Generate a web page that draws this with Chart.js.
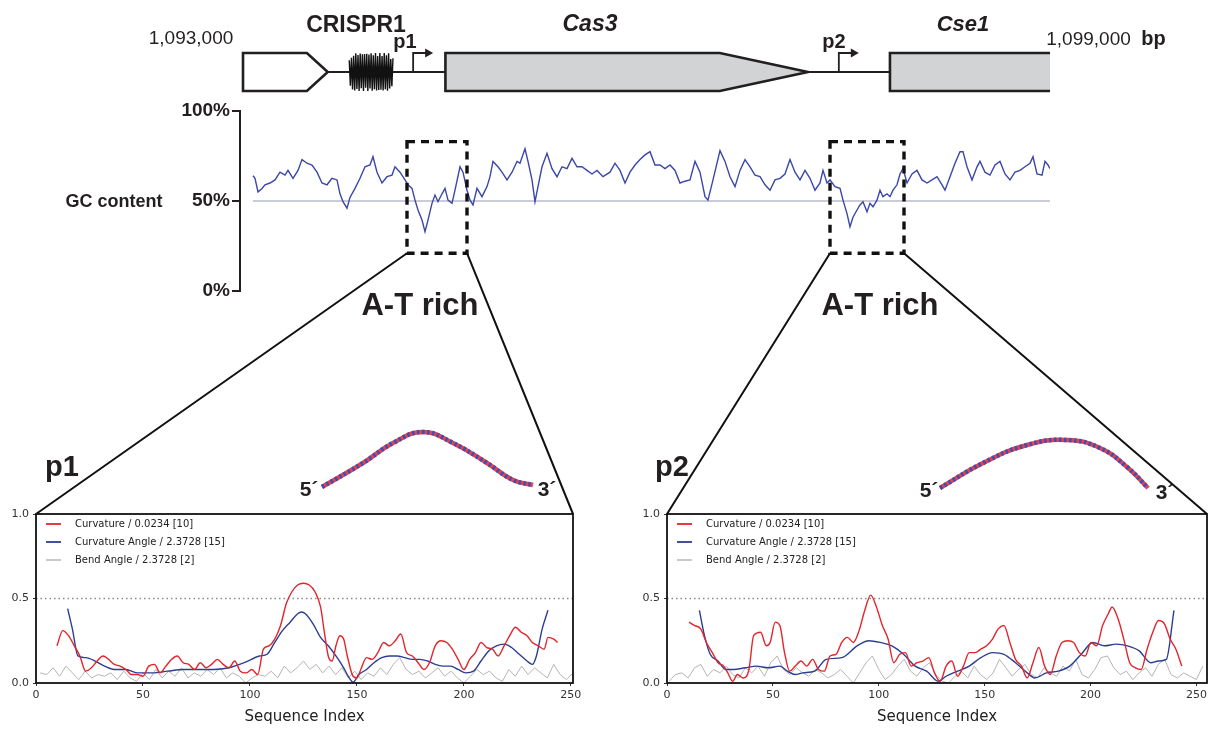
<!DOCTYPE html>
<html>
<head>
<meta charset="utf-8">
<script src="https://cdn.jsdelivr.net/npm/chart.js@4.4.1/dist/chart.umd.min.js"></script>
<style>
  html, body { margin: 0; padding: 0; background: #fff; }
  #wrap { position: relative; width: 1216px; height: 731px; overflow: hidden; font-family: "Liberation Sans", Arial, sans-serif; color: #231f20; }
  #wrap canvas { position: absolute; }
  .lbl { position: absolute; transform: translate(-50%, -50%); white-space: nowrap; line-height: 1; }
  .b { font-weight: bold; }
  .i { font-style: italic; }
</style>
</head>
<body>
<div id="wrap">
  <canvas id="mapChart" width="1216" height="100" style="left:0px;top:0px"></canvas>
  <canvas id="gcChart" width="1216" height="210" style="left:0px;top:95px"></canvas>
  <canvas id="dna1" width="232" height="75" style="left:312px;top:422px"></canvas>
  <canvas id="dna2" width="232" height="75" style="left:930px;top:423px"></canvas>
  <canvas id="p1Chart" width="608" height="231" style="left:0px;top:500px"></canvas>
  <canvas id="p2Chart" width="606" height="231" style="left:610px;top:500px"></canvas>
  <canvas id="links" width="1216" height="731" style="left:0px;top:0px"></canvas>

  <div class="lbl" style="left:191px;top:37px;font-size:19px">1,093,000</div>
  <div class="lbl b" style="left:356px;top:24px;font-size:23px">CRISPR1</div>
  <div class="lbl b" style="left:405px;top:41px;font-size:20px">p1</div>
  <div class="lbl b i" style="left:590px;top:23px;font-size:23px">Cas3</div>
  <div class="lbl b" style="left:834px;top:41px;font-size:20px">p2</div>
  <div class="lbl b i" style="left:963px;top:24px;font-size:22px">Cse1</div>
  <div class="lbl" style="left:1106px;top:38px;font-size:19px">1,099,000 &nbsp;<span class="b" style="font-size:20px">bp</span></div>
  <div class="lbl b" style="left:114px;top:201px;font-size:18px">GC content</div>
  <div class="lbl b" style="left:420px;top:304px;font-size:31px">A-T rich</div>
  <div class="lbl b" style="left:880px;top:304px;font-size:31px">A-T rich</div>
  <div class="lbl b" style="left:62px;top:466px;font-size:29px">p1</div>
  <div class="lbl b" style="left:672px;top:466px;font-size:29px">p2</div>
  <div class="lbl b" style="left:309px;top:488px;font-size:21px">5´</div>
  <div class="lbl b" style="left:547px;top:488px;font-size:21px">3´</div>
  <div class="lbl b" style="left:929px;top:489px;font-size:21px">5´</div>
  <div class="lbl b" style="left:1165px;top:491px;font-size:21px">3´</div>
</div>

<script>
// gene map (bp)
const featName  = ['orf', 'CRISPR1', 'Cas3', 'Cse1'];
const featKind  = ['arrow', 'repeat', 'arrow', 'box'];
const featStart = [1093000, 1093790, 1094505, 1097810];
const featHead  = [1093475, null, 1096545, null];
const featEnd   = [1093630, 1094115, 1097200, 1099000];
const featFill  = ['#ffffff', '#111111', '#d1d3d4', '#d1d3d4'];
const promPos   = [1094265, 1097430];

// GC content, sliding window number vs %
const gcWin = [0,2,5,9,12,17,22,27,32,35,40,45,49,54,59,64,69,74,79,84,87,90,94,97,102,107,112,117,120,124,
  129,134,139,142,147,152,155,159,162,165,169,172,175,179,182,185,189,192,195,199,202,207,210,214,217,220,224,229,234,237,
  240,245,249,254,259,264,267,272,275,279,282,285,289,294,299,304,309,314,319,324,329,334,339,344,350,357,362,367,372,377,
  382,387,392,397,402,407,412,417,422,427,432,437,442,447,452,455,460,
  467,472,477,482,487,492,497,502,507,512,517,522,527,532,537,542,547,552,557,562,567,570,574,577,582,587,590,594,597,600,
  604,607,610,614,617,620,624,627,630,634,637,640,644,647,650,654,659,664,669,674,679,684,689,692,697,702,707,710,714,719,
  724,727,732,737,742,747,752,757,762,767,772,777,780,784,789,792,795,797];
const gcPct = [64,62.6,55,57,59,60,61.7,66,64.4,67,62.6,67,73,71,70,66,60,59,62.6,61.7,54,49.6,46,52,57,62.6,69,70,74.6,66,
  60,63.5,64.4,69,66,61.7,59,57,50.5,45,39.4,33,39.4,48.7,53.3,49.6,54,57,50.5,48.7,56,69,66,56,50.5,47.8,57,52.4,58,63.5,
  72,69,66,61.7,66,72,71,79,72,61.7,49.6,58,69,76.5,68,63.5,69,68,73.7,69,69,67,65,67,63.5,66,71,67,60,66,
  70,73,75.6,77.4,70,70,68,70,67,60,61,61.7,72,66,52.4,50.5,61.7,
  78,72,63.5,58,67,73,69,64.4,63.5,59,56,61.7,62.6,65,73,66,61.7,67,62.6,56,60,67,60,61.7,58,57,50.5,43,35.7,41,
  45,47.8,49.6,44,48.7,46.8,50.5,56,52.4,54,52.4,56,59,65,68,60,65,67,61.7,60,61.7,63.5,59,56,63.5,71,77.4,77.4,69,61.7,
  69,72,66,64.4,70,72,65,61.7,66,67,69,71,74.6,65,64.4,72,70,68];
const gcMid = 50;

// A-T rich windows
const boxFrom = [154, 577];
const boxTo   = [214, 651];
const boxLow = 21, boxHigh = 83;

// p1 profiles
const p1CurvX = [9.8,12.5,15.2,17.9,20.5,23.2,25.9,28.6,31.3,33.9,36.6,39.3,42,44.6,47.3,50,52.7,55.4,58,60.7,
  63.4,66,68.8,71.4,74.1,76.8,79.5,82,84.8,87.5,90.2,92.9,95.5,98.2,100.9,103.6,106.3,108.9,111.6,114.3,
  117,119.6,122.3,125,127.7,130.4,133,134.8,136.6,138.4,140.2,142,143.8,145.5,148.2,150,151.8,154.5,157.1,159.8,
  162.5,165.2,167.9,170.5,173.2,175.9,178.6,181.3,183.9,186.6,189.3,192,194.6,197.3,200,202.7,205.4,208,210.7,213.4,
  216,218.8,221.4,224.1,226.8,229.5,232,234.8,237.5,239.3,242,243.8];
const p1Curv = [0.22,0.31,0.28,0.22,0.16,0.07,0.09,0.13,0.16,0.14,0.11,0.10,0.08,0.05,0.05,0.04,0.10,0.11,0.06,0.10,
  0.14,0.16,0.12,0.11,0.08,0.12,0.09,0.11,0.14,0.11,0.09,0.13,0.07,0.06,0.08,0.05,0.20,0.22,0.26,0.34,
  0.47,0.54,0.58,0.59,0.58,0.54,0.45,0.30,0.16,0.13,0.22,0.28,0.26,0.16,0.04,0.03,0.08,0.15,0.14,0.18,
  0.24,0.22,0.25,0.29,0.18,0.16,0.12,0.08,0.12,0.22,0.25,0.24,0.20,0.14,0.08,0.14,0.18,0.24,0.21,0.20,
  0.16,0.22,0.28,0.33,0.30,0.28,0.24,0.22,0.20,0.27,0.26,0.24];
const p1AngX = [14.8,17,19.6,23.2,27.7,32,36.6,42,47.3,54.5,61.6,68.8,75.9,83,90.2,97.3,104.5,108,111.6,115.2,
  118.8,122.3,124.1,125.9,129.5,133,136.6,140.2,143.8,146.4,148.2,150.9,154.5,158,161.6,165.2,168.8,172.3,175.9,179.5,
  183,186.6,190.2,193.8,197.3,200.9,204.5,208,211.6,215.2,218.8,222.3,225.9,229.5,232,233.9,236.6,239.3];
const p1Ang = [0.44,0.32,0.16,0.15,0.13,0.10,0.08,0.08,0.06,0.06,0.07,0.08,0.08,0.08,0.09,0.12,0.16,0.17,0.24,0.31,
  0.36,0.41,0.42,0.41,0.35,0.27,0.22,0.16,0.09,0.03,0.005,0.05,0.08,0.12,0.15,0.16,0.16,0.15,0.14,0.14,
  0.13,0.11,0.10,0.10,0.08,0.06,0.07,0.13,0.19,0.22,0.23,0.21,0.17,0.13,0.11,0.16,0.32,0.43];
const p1BendX = [2,5,8,11,14,17,20,23,26,29,32,35,38,41,44,47,50,53,56,59,62,65,68,71,74,77,80,83,86,89,
  92,95,98,101,104,107,110,113,116,119,122,125,128,131,134,137,140,143,146,149,152,155,158,161,164,167,170,173,176,179,
  182,185,188,191,194,197,200,203,206,209,212,215,218,221,224,227,230,233,236,239,242,245,248,251];
const p1Bend = [.06,.05,.09,.04,.10,.06,.02,.07,.03,.05,.04,.06,.02,.07,.03,.01,.06,.02,.08,.03,
  .07,.04,.09,.03,.06,.04,.08,.05,.09,.03,.06,.04,.00,.03,.05,.04,.07,.03,.10,.06,
  .09,.13,.08,.11,.06,.10,.05,.09,.03,.07,.02,.06,.04,.09,.05,.11,.15,.08,.05,.07,
  .03,.06,.09,.04,.07,.03,.00,.04,.08,.05,.07,.03,.01,.08,.04,.10,.05,.09,.06,.03,.11,.05,.02,.06];

// p2 profiles
const p2CurvX = [10.4,13.1,15.9,18.6,21.4,24.1,26.8,28.7,31,33.2,36,38.7,40.9,44.2,46.9,48.7,51.1,53.3,55.5,57.9,
  60.6,63.3,66,68.8,71.5,74.3,77,79.8,82.5,85.2,88,90.7,93.4,96.2,98.9,101.7,104.4,107.1,109.9,112.6,
  115.3,118.1,120.8,123.6,126.3,129,131.8,134.5,137.2,140,142.7,145.5,148.2,150.9,153.7,156.4,159.1,161.9,164.6,167.4,
  170.1,172.8,175.6,178.3,181,183.8,186.5,189.3,192,194.7,197.5,200.2,202.9,205.7,208.4,210.2,213,215.7,218.5,221.2,
  223.9,226.7,229.4,232.1,234.9,237.6,240.3,243.1];
const p2Curv = [0.36,0.34,0.32,0.24,0.18,0.12,0.10,0.06,0.01,0.05,0.03,0.08,0.28,0.30,0.22,0.24,0.36,0.34,0.18,0.07,
  0.10,0.13,0.10,0.14,0.08,0.07,0.16,0.17,0.24,0.27,0.24,0.31,0.43,0.52,0.45,0.34,0.26,0.12,0.17,0.18,
  0.10,0.12,0.13,0.15,0.06,0.01,0.10,0.13,0.04,0.10,0.18,0.18,0.20,0.22,0.26,0.32,0.34,0.24,0.14,0.10,
  0.03,0.12,0.21,0.10,0.05,0.16,0.24,0.25,0.24,0.18,0.16,0.24,0.22,0.34,0.41,0.45,0.38,0.26,0.12,0.09,
  0.08,0.20,0.30,0.37,0.35,0.26,0.20,0.10];
const p2AngX = [15.3,17.7,20.4,24.1,27.7,31.4,36.9,42.3,47.8,53.3,56.9,60.6,64.2,69.7,75.2,82.5,89.8,95.3,100.7,106.2,
  111.7,117.2,122.6,128.1,131.8,137.2,142.7,148.2,153.7,159.1,164.6,170.1,173.7,179.2,184.7,190.2,195.6,201.1,206.6,212.1,
  217.5,223,228.5,232.1,235.8,239.4];
const p2Ang = [0.43,0.28,0.17,0.13,0.08,0.08,0.09,0.10,0.09,0.10,0.07,0.05,0.06,0.07,0.14,0.15,0.22,0.25,0.24,0.22,
  0.17,0.10,0.07,0.01,0.04,0.07,0.10,0.15,0.18,0.17,0.12,0.06,0.03,0.06,0.07,0.10,0.17,0.24,0.22,0.23,
  0.22,0.19,0.12,0.13,0.14,0.43];
const p2BendX = [1,4,7,10,13,16,19,22,25,28,31,34,37,40,43,46,49,52,55,58,61,64,67,70,73,76,79,82,85,88,
  91,94,97,100,103,106,109,112,115,118,121,124,127,130,133,136,139,142,145,148,151,154,157,160,163,166,169,172,175,178,
  181,184,187,190,193,196,199,202,205,208,211,214,217,220,223,226,229,232,235,238,241,244,247,250,253];
const p2Bend = [.01,.05,.06,.03,.09,.11,.04,.08,.06,.10,.05,.03,.09,.06,.10,.04,.12,.16,.08,.05,
  .09,.06,.04,.08,.06,.03,.05,.08,.04,.00,.06,.12,.16,.08,.02,.05,.10,.14,.07,.04,
  .09,.12,.05,.01,.00,.04,.07,.03,.10,.05,.02,.06,.14,.09,.04,.08,.11,.05,.03,.09,
  .06,.04,.10,.07,.14,.05,.03,.08,.15,.16,.09,.05,.07,.02,.06,.09,.04,.11,.14,.05,.03,.06,.04,.02,.10];

const seriesNames = ['Curvature / 0.0234 [10]', 'Curvature Angle / 2.3728 [15]', 'Bend Angle / 2.3728 [2]'];
const seqMax = [251, 255];
const seqTicks = [0, 50, 100, 150, 200, 250];
const profTicks = [0, 0.5, 1];

// 3D model backbones (model units)
const dna1X = [0, 4.1, 7.1, 10.1, 13.1, 16.5, 19.1, 21.1];
const dna1Y = [0, 2.4, 4.4, 5.5, 4.4, 2.4, 0.7, 0.2];
const dna2X = [0, 4.3, 8.7, 12.7, 16, 18.7, 20.8];
const dna2Y = [0, 2.5, 4.3, 4.8, 4.0, 2.1, 0];

Chart.defaults.font.family = '"DejaVu Sans", sans-serif';
Chart.defaults.color = '#333';

const pts = (xs, ys) => xs.map((x, i) => ({ x, y: ys[i] }));
const ink = '#231f20';

// gene map drawn on the bp scale
const mapPlugin = {
  id: 'geneMap',
  afterDraw(chart) {
    const { ctx, scales: { x, y } } = chart;
    const y0 = y.getPixelForValue(0), yt = y.getPixelForValue(0.95), yb = y.getPixelForValue(-0.95);
    ctx.save();
    ctx.strokeStyle = ink;
    ctx.lineWidth = 2;
    ctx.beginPath();
    ctx.moveTo(x.getPixelForValue(featEnd[0]), y0);
    ctx.lineTo(x.getPixelForValue(featStart[3]), y0);
    ctx.stroke();

    ctx.lineWidth = 2.6;
    featName.forEach((name, i) => {
      const s = x.getPixelForValue(featStart[i]), e = x.getPixelForValue(featEnd[i]);
      if (featKind[i] === 'repeat') {
        ctx.save();
        ctx.lineWidth = 1.4;
        ctx.strokeStyle = featFill[i];
        ctx.beginPath();
        const n = 40;
        for (let k = 0; k <= n; k++) {
          const px = s + (e - s) * k / n;
          let env = 0.82 + 0.18 * Math.abs(Math.sin(k * 2.3));
          if (k < 3 || k > n - 3) env *= 0.75;
          const yy = y0 + (k % 2 ? 1 : -1) * (yb - y0) * env;
          if (k) ctx.lineTo(px, yy); else ctx.moveTo(px, yy);
        }
        ctx.stroke();
        ctx.restore();
        return;
      }
      ctx.fillStyle = featFill[i];
      ctx.beginPath();
      if (featKind[i] === 'arrow') {
        const hd = x.getPixelForValue(featHead[i]);
        ctx.moveTo(s, yt); ctx.lineTo(hd, yt); ctx.lineTo(e, y0); ctx.lineTo(hd, yb); ctx.lineTo(s, yb);
        ctx.closePath();
        ctx.fill(); ctx.stroke();
      } else {
        ctx.fillRect(s, yt, e - s, yb - yt);
        ctx.moveTo(e, yt); ctx.lineTo(s, yt); ctx.lineTo(s, yb); ctx.lineTo(e, yb);
        ctx.stroke();
      }
    });

    // promoters
    ctx.lineWidth = 1.8;
    ctx.fillStyle = ink;
    promPos.forEach(p => {
      const px = x.getPixelForValue(p), top = yt;
      ctx.beginPath();
      ctx.moveTo(px, y0); ctx.lineTo(px, top); ctx.lineTo(px + 13, top);
      ctx.stroke();
      ctx.beginPath();
      ctx.moveTo(px + 20, top); ctx.lineTo(px + 12, top - 4.5); ctx.lineTo(px + 12, top + 4.5);
      ctx.closePath(); ctx.fill();
    });
    ctx.restore();
  }
};

const mapChart = new Chart(document.getElementById('mapChart'), {
  type: 'scatter',
  data: { datasets: [] },
  options: {
    responsive: false, animation: false,
    layout: { padding: { left: 243, right: 166, top: 52, bottom: 8 } },
    plugins: { legend: { display: false }, tooltip: { enabled: false } },
    scales: {
      x: { type: 'linear', min: 1093000, max: 1099000, display: false },
      y: { min: -1, max: 1, display: false }
    }
  },
  plugins: [mapPlugin]
});

// dashed A-T rich boxes
const boxPlugin = {
  id: 'atBoxes',
  afterDatasetsDraw(chart) {
    const { ctx, scales: { x, y } } = chart;
    ctx.save();
    ctx.strokeStyle = '#111';
    ctx.lineWidth = 3.4;
    ctx.setLineDash([8, 6]);
    boxFrom.forEach((b, i) => {
      const l = x.getPixelForValue(b), r = x.getPixelForValue(boxTo[i]);
      const t = y.getPixelForValue(boxHigh), btm = y.getPixelForValue(boxLow);
      ctx.strokeRect(l, t, r - l, btm - t);
    });
    ctx.restore();
  }
};

const gcChart = new Chart(document.getElementById('gcChart'), {
  type: 'line',
  data: {
    datasets: [
      { label: 'GC content', data: pts(gcWin, gcPct), borderColor: '#3a46a8', borderWidth: 1.4, pointRadius: 0, tension: 0 },
      { label: '50%', data: [{ x: gcWin[0], y: gcMid }, { x: gcWin[gcWin.length - 1], y: gcMid }], borderColor: '#b8bbd0', borderWidth: 1.5, pointRadius: 0 }
    ]
  },
  options: {
    responsive: false, animation: false,
    layout: { padding: { top: 16, right: 166, bottom: 14, left: 0 } },
    plugins: { legend: { display: false }, tooltip: { enabled: false } },
    scales: {
      x: { type: 'linear', min: -13, max: 797, display: false },
      y: {
        min: 0, max: 100,
        afterFit(s) { s.width = 240; },
        border: { display: true, color: ink, width: 2 },
        grid: { drawOnChartArea: false, color: ink, lineWidth: 2, tickLength: 8 },
        ticks: { stepSize: 50, padding: 2, color: ink, font: { family: '"Liberation Sans", Arial', size: 19, weight: 'bold' }, callback: v => v + '%' }
      }
    }
  },
  plugins: [boxPlugin]
});

// DNA models
function dnaChart(id, xs, ys) {
  const data = pts(xs, ys);
  return new Chart(document.getElementById(id), {
    type: 'line',
    data: {
      datasets: [
        { data, borderColor: '#3d4fb5', borderWidth: 4.5, borderDash: [2.5, 2.5], pointRadius: 0, tension: 0.45 },
        { data, borderColor: '#e8404a', borderWidth: 4.5, pointRadius: 0, tension: 0.45 }
      ]
    },
    options: {
      responsive: false, animation: false,
      layout: { padding: 0 },
      plugins: { legend: { display: false }, tooltip: { enabled: false } },
      scales: {
        x: { type: 'linear', min: -1, max: 22.2, display: false },
        y: { min: -1, max: 6.5, display: false }
      }
    }
  });
}
dnaChart('dna1', dna1X, dna1Y);
dnaChart('dna2', dna2X, dna2Y);

// legend + frame for the profile plots
const seqDecor = {
  id: 'seqDecor',
  afterDraw(chart) {
    const { ctx, chartArea: a } = chart;
    ctx.save();
    ctx.strokeStyle = '#111';
    ctx.lineWidth = 1.8;
    ctx.strokeRect(a.left, a.top, a.right - a.left, a.bottom - a.top);
    ctx.font = '10px "DejaVu Sans"';
    ctx.textBaseline = 'middle';
    chart.data.datasets.filter(d => d.label).forEach((d, i) => {
      const yy = a.top + 10 + i * 18;
      ctx.strokeStyle = d.borderColor;
      ctx.lineWidth = d.borderWidth + 0.4;
      ctx.beginPath();
      ctx.moveTo(a.left + 10, yy); ctx.lineTo(a.left + 25, yy);
      ctx.stroke();
      ctx.fillStyle = '#222';
      ctx.fillText(d.label, a.left + 39, yy + 0.5);
    });
    ctx.restore();
  }
};

function seqChart(id, curvX, curv, angX, ang, bendX, bend, xMax, axisW, padRight) {
  return new Chart(document.getElementById(id), {
    type: 'line',
    data: {
      datasets: [
        { label: seriesNames[0], data: pts(curvX, curv), borderColor: '#e3242b', borderWidth: 1.4, pointRadius: 0, cubicInterpolationMode: 'monotone' },
        { label: seriesNames[1], data: pts(angX, ang), borderColor: '#2c3e94', borderWidth: 1.4, pointRadius: 0, cubicInterpolationMode: 'monotone' },
        { label: seriesNames[2], data: pts(bendX, bend), borderColor: '#b4b4b4', borderWidth: 1, pointRadius: 0, tension: 0 },
        { label: '', data: [{ x: 0, y: 0.5 }, { x: xMax, y: 0.5 }], borderColor: '#8a8a8a', borderWidth: 1.3, borderDash: [1.5, 3], pointRadius: 0 }
      ]
    },
    options: {
      responsive: false, animation: false,
      layout: { padding: { top: 14, right: padRight, bottom: 0, left: 0 } },
      plugins: { legend: { display: false }, tooltip: { enabled: false } },
      scales: {
        x: {
          type: 'linear', min: 0, max: xMax,
          afterFit(s) { s.height = 48; },
          afterBuildTicks(s) { s.ticks = seqTicks.map(v => ({ value: v })); },
          border: { display: false },
          grid: { drawOnChartArea: false, color: '#333', tickLength: 3 },
          ticks: { maxRotation: 0, padding: 3, color: '#333', font: { size: 11 } },
          title: { display: true, text: 'Sequence Index', color: '#222', font: { size: 15 }, padding: { top: 2, bottom: 5 } }
        },
        y: {
          min: 0, max: 1,
          afterFit(s) { s.width = axisW; },
          afterBuildTicks(s) { s.ticks = profTicks.map(v => ({ value: v })); },
          border: { display: false },
          grid: { drawOnChartArea: false, color: '#333', tickLength: 3 },
          ticks: { padding: 4, color: '#333', font: { size: 11 }, callback: v => v.toFixed(1) }
        }
      }
    },
    plugins: [seqDecor]
  });
}

const p1Chart = seqChart('p1Chart', p1CurvX, p1Curv, p1AngX, p1Ang, p1BendX, p1Bend, seqMax[0], 36, 35);
const p2Chart = seqChart('p2Chart', p2CurvX, p2Curv, p2AngX, p2Ang, p2BendX, p2Bend, seqMax[1], 57, 9);

// zoom-out lines from the dashed boxes to the profile plots
(function drawLinks() {
  const ctx = document.getElementById('links').getContext('2d');
  const gc = gcChart.canvas;
  const gx = v => gcChart.scales.x.getPixelForValue(v) + gc.offsetLeft;
  const gy = v => gcChart.scales.y.getPixelForValue(v) + gc.offsetTop;
  ctx.strokeStyle = '#111';
  ctx.lineWidth = 2;
  [p1Chart, p2Chart].forEach((c, i) => {
    const a = c.chartArea, ox = c.canvas.offsetLeft, oy = c.canvas.offsetTop;
    ctx.beginPath();
    ctx.moveTo(gx(boxFrom[i]), gy(boxLow)); ctx.lineTo(a.left + ox, a.top + oy);
    ctx.moveTo(gx(boxTo[i]), gy(boxLow)); ctx.lineTo(a.right + ox, a.top + oy);
    ctx.stroke();
  });
})();
</script>
</body>
</html>
